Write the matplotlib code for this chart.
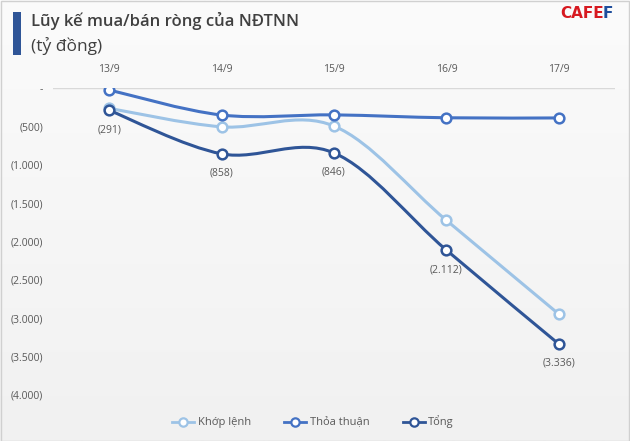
import matplotlib
matplotlib.use("Agg")
import matplotlib.pyplot as plt
from matplotlib.path import Path
from matplotlib.patches import PathPatch, Rectangle
from matplotlib.lines import Line2D
import numpy as np

plt.rcParams['font.family'] = ['Open Sans', 'DejaVu Sans']

dates = ["13/9", "14/9", "15/9", "16/9", "17/9"]
khop_lenh = [-265, -506, -496, -1724, -2946]
thoa_thuan = [-26, -352, -350, -388, -390]
tong = [-291, -858, -846, -2112, -3336]
tong_labels = ["(291)", "(858)", "(846)", "(2.112)", "(3.336)"]
yticks = [0, -500, -1000, -1500, -2000, -2500, -3000, -3500, -4000]
ytick_labels = ["-", "(500)", "(1.000)", "(1.500)", "(2.000)", "(2.500)", "(3.000)", "(3.500)", "(4.000)"]

c_khop = "#9dc3e6"
c_thoa = "#4472c4"
c_tong = "#2f5597"

W, H = 630, 441
fig = plt.figure(figsize=(W / 100, H / 100), dpi=100)
fig.patch.set_facecolor("#f6f6f6")

# background gradient
bg = fig.add_axes([0, 0, 1, 1], zorder=-10)
grad = np.linspace(1.0, 0.0, 256).reshape(-1, 1)
bg.imshow(grad, aspect="auto", cmap=matplotlib.colors.LinearSegmentedColormap.from_list(
    "g", ["#f1f1f1", "#fbfbfb"]), extent=[0, 1, 0, 1])
bg.set_xlim(0, 1); bg.set_ylim(0, 1)
bg.axis("off")
fig.add_artist(Rectangle((0.5 / W, 0.5 / H), 1 - 1.5 / W, 1 - 1.5 / H, transform=fig.transFigure,
                         fill=False, ec="#d0d0d0", lw=1))

ax = fig.add_axes([53 / W, 1 - 395 / H, (615 - 53) / W, (395 - 88) / H])
ax.set_facecolor("none")
ax.set_xlim(-0.5, len(dates) - 0.5)
ax.set_ylim(-4000, 0)
for s in ax.spines.values():
    s.set_visible(False)
ax.axhline(0, color="#d9d9d9", lw=1, zorder=1)

x = np.arange(len(dates))


def smooth_path(xs, ys):
    pts = np.column_stack([xs, ys]).astype(float)
    n = len(pts)
    verts = [pts[0]]
    codes = [Path.MOVETO]
    for i in range(n - 1):
        p0 = pts[i - 1] if i > 0 else pts[i]
        p1 = pts[i]
        p2 = pts[i + 1]
        p3 = pts[i + 2] if i + 2 < n else pts[i + 1]
        c1 = p1 + (p2 - p0) / 6.0
        c2 = p2 - (p3 - p1) / 6.0
        verts += [c1, c2, p2]
        codes += [Path.CURVE4] * 3
    return Path(verts, codes)


for ys, col, z in [(khop_lenh, c_khop, 3), (thoa_thuan, c_thoa, 4), (tong, c_tong, 5)]:
    ax.add_patch(PathPatch(smooth_path(x, ys), fc="none", ec=col, lw=2.2, zorder=z,
                           capstyle="round", joinstyle="round"))
    ax.plot(x, ys, ls="none", marker="o", ms=7, mfc="white", mec=col, mew=1.8, zorder=z + 0.5)

for xi, yi, lab in zip(x, tong, tong_labels):
    ax.annotate(lab, (xi, yi), xytext=(0, -14), textcoords="offset points", ha="center", va="center",
                fontsize=7.5, color="#595959", zorder=10)

ax.xaxis.tick_top()
ax.set_xticks(x)
ax.set_xticklabels(dates, fontsize=7.5, color="#595959")
ax.tick_params(axis="x", length=0, pad=9)
ax.set_yticks(yticks)
ax.set_yticklabels(ytick_labels, fontsize=7.5, color="#595959")
ax.tick_params(axis="y", length=0, pad=7)

# title
fig.add_artist(Rectangle((13 / W, 1 - 55 / H), 8 / W, 43 / H, transform=fig.transFigure,
                         fc="#2f5597", ec="none"))
fig.text(31 / W, 1 - 21 / H, "Lũy kế mua/bán ròng của NĐTNN", fontsize=12, color="#404040",
         ha="left", va="center", fontweight="semibold")
fig.text(31 / W, 1 - 46 / H, "(tỷ đồng)", fontsize=12.5, color="#404040", ha="left", va="center")

# logo
t1 = fig.text(560 / W, 1 - 13 / H, "CAFE", fontsize=11, color="#d71920", fontweight="heavy",
              ha="left", va="center", family="DejaVu Sans")
fig.canvas.draw()
bb = t1.get_window_extent()
fig.text((bb.x1 - 1) / W, 1 - 13 / H, "F", fontsize=11, color="#1f4e9c", fontweight="heavy",
         ha="left", va="center", family="DejaVu Sans")

handles = [Line2D([], [], color=c, lw=2, marker="o", ms=6, mfc="white", mec=c, mew=1.6)
           for c in (c_khop, c_thoa, c_tong)]
fig.legend(handles, ["Khớp lệnh", "Thỏa thuận", "Tổng"], loc="center", bbox_to_anchor=(313 / W, 1 - 422 / H),
           ncol=3, frameon=False, fontsize=8, labelcolor="#595959", handlelength=2.0,
           handletextpad=0.3, columnspacing=3.0)

fig.savefig("out.png", dpi=100, facecolor=fig.get_facecolor())
